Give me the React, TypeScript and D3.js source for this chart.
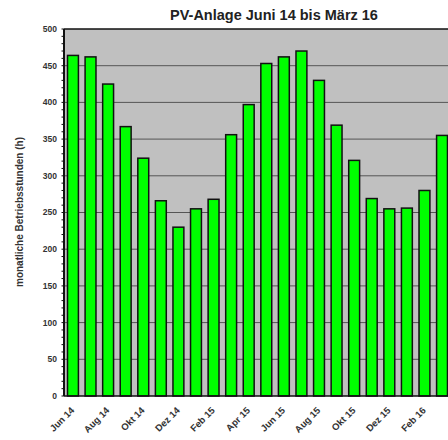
import React, { useEffect, useRef } from "react";
import * as d3 from "d3";

const months = [
  "Jun 14", "Jul 14", "Aug 14", "Sep 14", "Okt 14", "Nov 14", "Dez 14",
  "Jan 15", "Feb 15", "Mär 15", "Apr 15", "Mai 15", "Jun 15", "Jul 15",
  "Aug 15", "Sep 15", "Okt 15", "Nov 15", "Dez 15", "Jan 16", "Feb 16", "Mär 16",
];
const hours = [
  464, 462, 425, 367, 324, 266, 230, 255, 268, 356, 397,
  453, 462, 470, 430, 369, 321, 269, 255, 256, 280, 355,
];
const labelledMonths = [
  "Jun 14", "Aug 14", "Okt 14", "Dez 14", "Feb 15", "Apr 15",
  "Jun 15", "Aug 15", "Okt 15", "Dez 15", "Feb 16",
];
const yTicks = [0, 50, 100, 150, 200, 250, 300, 350, 400, 450, 500];

const width = 448,
  height = 440;
const margin = { top: 29, right: -3, bottom: 44, left: 64 };

export default function App(): JSX.Element {
  const svgRef = useRef<SVGSVGElement>(null);

  useEffect(() => {
    if (!svgRef.current) return;
    const svg = d3.select(svgRef.current);
    svg.selectAll("*").remove();

    const x = d3
      .scaleBand()
      .domain(months)
      .range([margin.left, width - margin.right])
      .paddingInner(0.38)
      .paddingOuter(0.2);

    const y = d3
      .scaleLinear()
      .domain([0, 500])
      .range([height - margin.bottom, margin.top]);

    // plot background
    svg
      .append("rect")
      .attr("x", margin.left)
      .attr("y", margin.top)
      .attr("width", width - margin.right - margin.left)
      .attr("height", y(0) - margin.top)
      .attr("fill", "#c0c0c0");

    // grid
    svg
      .append("g")
      .selectAll("line")
      .data(yTicks.filter((d) => d > 0 && d < 500))
      .join("line")
      .attr("x1", margin.left)
      .attr("x2", width)
      .attr("y1", (d) => y(d))
      .attr("y2", (d) => y(d))
      .attr("stroke", "#555")
      .attr("stroke-width", 1);

    // bars
    svg
      .append("g")
      .selectAll("rect")
      .data(hours)
      .join("rect")
      .attr("x", (d, i) => x(months[i]) as number)
      .attr("y", (d) => y(d))
      .attr("width", x.bandwidth())
      .attr("height", (d) => y(0) - y(d))
      .attr("fill", "#00ff00")
      .attr("stroke", "#111")
      .attr("stroke-width", 1.5);

    // top border
    svg
      .append("line")
      .attr("x1", margin.left)
      .attr("x2", width)
      .attr("y1", y(500))
      .attr("y2", y(500))
      .attr("stroke", "#111")
      .attr("stroke-width", 1.5);

    // bottom axis line
    svg
      .append("line")
      .attr("x1", margin.left)
      .attr("x2", width)
      .attr("y1", y(0))
      .attr("y2", y(0))
      .attr("stroke", "#111")
      .attr("stroke-width", 1.5);

    // y axis with minor ticks
    const yAxis = svg.append("g");
    yAxis
      .selectAll("line.minor")
      .data(d3.range(0, 501, 10))
      .join("line")
      .attr("class", "minor")
      .attr("x1", margin.left - 2.5)
      .attr("x2", margin.left)
      .attr("y1", (d) => y(d))
      .attr("y2", (d) => y(d))
      .attr("stroke", "#111")
      .attr("stroke-width", 1);
    yAxis
      .append("line")
      .attr("x1", margin.left)
      .attr("x2", margin.left)
      .attr("y1", y(500))
      .attr("y2", y(0))
      .attr("stroke", "#111")
      .attr("stroke-width", 2);
    yAxis
      .selectAll("text")
      .data(yTicks)
      .join("text")
      .attr("x", margin.left - 7)
      .attr("y", (d) => y(d))
      .attr("dy", "0.35em")
      .attr("text-anchor", "end")
      .attr("font-family", "Liberation Sans, Arial, sans-serif")
      .attr("font-size", 8.5)
      .attr("font-weight", "bold")
      .attr("fill", "#333")
      .text((d) => d);

    // x labels
    svg
      .append("g")
      .selectAll("text")
      .data(labelledMonths)
      .join("text")
      .attr(
        "transform",
        (d) =>
          `translate(${(x(d) as number) + x.bandwidth() / 2 + 2},${y(0) + 15}) rotate(-45)`
      )
      .attr("text-anchor", "end")
      .attr("font-family", "Liberation Sans, Arial, sans-serif")
      .attr("font-size", 9.5)
      .attr("font-weight", "bold")
      .attr("fill", "#333")
      .text((d) => d);

    // title
    svg
      .append("text")
      .attr("x", 274)
      .attr("y", 20)
      .attr("text-anchor", "middle")
      .attr("font-family", "Liberation Sans, Arial, sans-serif")
      .attr("font-size", 14.5)
      .attr("font-weight", "bold")
      .attr("fill", "#222")
      .text("PV-Anlage Juni 14 bis März 16");

    // y label
    svg
      .append("text")
      .attr("transform", `translate(23,212) rotate(-90)`)
      .attr("text-anchor", "middle")
      .attr("font-family", "Liberation Sans, Arial, sans-serif")
      .attr("font-size", 10)
      .attr("font-weight", "bold")
      .attr("fill", "#333")
      .text("monatliche Betriebsstunden (h)");
  }, []);

  return (
    <svg
      ref={svgRef}
      width={width}
      height={height}
      style={{ position: "absolute", left: 0, top: 0, background: "#fff" }}
    />
  );
}
